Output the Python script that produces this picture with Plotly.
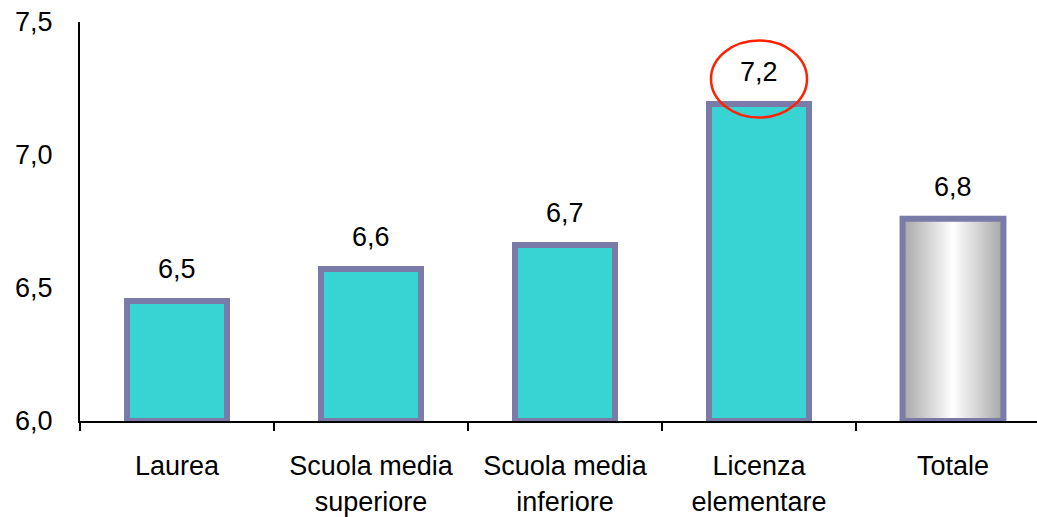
import plotly.graph_objects as go

categories = ["Laurea", "Scuola media<br>superiore", "Scuola media<br>inferiore", "Licenza<br>elementare", "Totale"]
values = [6.45, 6.57, 6.66, 7.19, 6.76]
y_ticks = [6.0, 6.5, 7.0, 7.5]

FILL = "#38D4D4"
OUTLINE = "#7B7BAA"
FONT = "Liberation Sans, Arial, sans-serif"
FS = 27
BAR_W = 0.52
BASE = 6.0

idx = list(range(len(categories)))
fig = go.Figure()

# regular bars (all except the total)
fig.add_trace(go.Bar(
    x=idx[:-1], y=[v - BASE for v in values[:-1]], base=BASE, width=BAR_W,
    marker=dict(color=FILL, line=dict(color=OUTLINE, width=6)),
    hoverinfo="skip", showlegend=False,
))

# total bar with horizontal grey gradient
xt = idx[-1]
vt = values[-1]
fig.add_trace(go.Scatter(
    x=[xt - BAR_W / 2, xt + BAR_W / 2, xt + BAR_W / 2, xt - BAR_W / 2, xt - BAR_W / 2],
    y=[BASE, BASE, vt, vt, BASE],
    mode="lines", fill="toself",
    fillgradient=dict(type="horizontal",
                      colorscale=[[0, "#A6A6A6"], [0.5, "#FFFFFF"], [1, "#A6A6A6"]]),
    line=dict(color=OUTLINE, width=6),
    hoverinfo="skip", showlegend=False,
))

for i, v in zip(idx, values):
    fig.add_annotation(x=i, y=v, text=f"{v:.1f}".replace(".", ","), showarrow=False,
                       yshift=32, font=dict(family=FONT, size=FS, color="black"))

# red ellipse highlighting the maximum
imax = values.index(max(values))
fig.add_shape(type="circle", xref="x", yref="y", xsizemode="pixel", ysizemode="pixel",
              xanchor=imax, yanchor=values[imax], x0=-48, x1=48, y0=-13, y1=64,
              line=dict(color="#FF2200", width=2.5))

fig.update_layout(
    width=1037, height=517,
    margin=dict(l=80, r=0, t=22, b=92),
    paper_bgcolor="white", plot_bgcolor="white",
    separators=",.",
    font=dict(family=FONT, size=FS, color="black"),
    xaxis=dict(
        range=[-0.5, 4.433], tickmode="array", tickvals=idx, ticktext=categories,
        ticks="", showline=True, linecolor="black", linewidth=2, showgrid=False,
        zeroline=False, ticklabelstandoff=20,
        minor=dict(tickmode="linear", tick0=-0.5, dtick=1, ticks="outside",
                   ticklen=8, tickwidth=2, tickcolor="black", showgrid=False),
        fixedrange=True,
    ),
    yaxis=dict(
        range=[6.0, 7.5], tickmode="array", tickvals=y_ticks, tickformat=".1f",
        ticks="", showline=True, linecolor="black", linewidth=2, showgrid=False,
        zeroline=False, ticklabelstandoff=20, fixedrange=True,
    ),
    bargap=0,
)

fig.write_html("out.html")
